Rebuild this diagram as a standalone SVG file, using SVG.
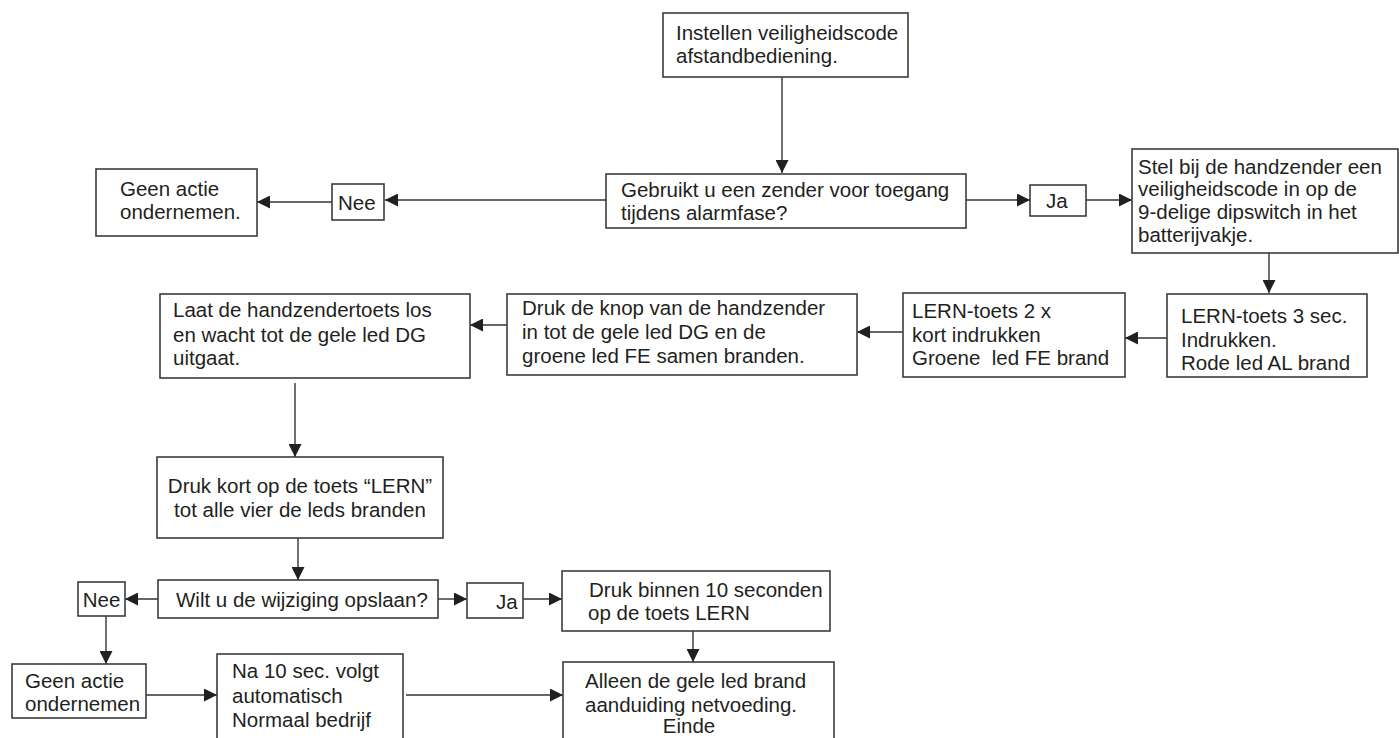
<svg xmlns="http://www.w3.org/2000/svg" width="1399" height="738" viewBox="0 0 1399 738">
<style>
.box{fill:#fff;stroke:#3c3c3c;stroke-width:1.6}
.t{font-family:"Liberation Sans",Arial,sans-serif;font-size:20.5px;fill:#231f20}
.c{text-anchor:middle}
.ln{stroke:#333;stroke-width:1.4;fill:none}
</style>
<defs>
<marker id="ah" markerUnits="userSpaceOnUse" markerWidth="14" markerHeight="13" refX="13" refY="6.5" orient="auto">
<path d="M0,0 L13,6.5 L0,13 Z" fill="#231f20"/>
</marker>
</defs>
<rect width="1399" height="738" fill="#fff"/>
<g id="connectors">
<line class="ln" x1="782" y1="77" x2="782" y2="173" marker-end="url(#ah)"/>
<line class="ln" x1="606" y1="200" x2="385" y2="200" marker-end="url(#ah)"/>
<line class="ln" x1="332" y1="202" x2="257" y2="202" marker-end="url(#ah)"/>
<line class="ln" x1="966" y1="200" x2="1030" y2="200" marker-end="url(#ah)"/>
<line class="ln" x1="1086" y1="200" x2="1132" y2="200" marker-end="url(#ah)"/>
<line class="ln" x1="1269" y1="253" x2="1269" y2="293" marker-end="url(#ah)"/>
<line class="ln" x1="1167" y1="338" x2="1125" y2="338" marker-end="url(#ah)"/>
<line class="ln" x1="903" y1="332" x2="857" y2="332" marker-end="url(#ah)"/>
<line class="ln" x1="507" y1="325" x2="470" y2="325" marker-end="url(#ah)"/>
<line class="ln" x1="295" y1="383" x2="295" y2="457" marker-end="url(#ah)"/>
<line class="ln" x1="298" y1="538" x2="298" y2="580" marker-end="url(#ah)"/>
<line class="ln" x1="158" y1="599" x2="125" y2="599" marker-end="url(#ah)"/>
<line class="ln" x1="106" y1="616" x2="106" y2="664" marker-end="url(#ah)"/>
<line class="ln" x1="437" y1="599" x2="467" y2="599" marker-end="url(#ah)"/>
<line class="ln" x1="523" y1="599" x2="562" y2="599" marker-end="url(#ah)"/>
<line class="ln" x1="693" y1="631" x2="693" y2="662" marker-end="url(#ah)"/>
<line class="ln" x1="146" y1="695" x2="217" y2="695" marker-end="url(#ah)"/>
<line class="ln" x1="406" y1="695" x2="563" y2="695" marker-end="url(#ah)"/>
</g>
<g id="n-instellen">
<rect class="box" x="663" y="13" width="245" height="64"/>
<text class="t" x="676" y="40">Instellen veiligheidscode</text>
<text class="t" x="676" y="63">afstandbediening.</text>
</g>
<g id="n-gebruikt">
<rect class="box" x="606" y="174" width="360" height="54"/>
<text class="t" x="621" y="197">Gebruikt u een zender voor toegang</text>
<text class="t" x="621" y="220">tijdens alarmfase?</text>
</g>
<g id="n-nee1">
<rect class="box" x="332" y="184" width="52" height="36"/>
<text class="t" x="338" y="210">Nee</text>
</g>
<g id="n-geen1">
<rect class="box" x="96" y="169" width="161" height="67"/>
<text class="t" x="120" y="196">Geen actie</text>
<text class="t" x="120" y="219">ondernemen.</text>
</g>
<g id="n-ja1">
<rect class="box" x="1030" y="185" width="56" height="31"/>
<text class="t" x="1046" y="208">Ja</text>
</g>
<g id="n-stel">
<rect class="box" x="1132" y="149" width="266" height="104"/>
<text class="t" x="1138" y="174">Stel bij de handzender een</text>
<text class="t" x="1138" y="196">veiligheidscode in op de</text>
<text class="t" x="1138" y="219">9-delige dipswitch in het</text>
<text class="t" x="1138" y="242">batterijvakje.</text>
</g>
<g id="n-lern3">
<rect class="box" x="1167" y="294" width="200" height="83"/>
<text class="t" x="1181" y="323">LERN-toets 3 sec.</text>
<text class="t" x="1181" y="347">Indrukken.</text>
<text class="t" x="1181" y="370">Rode led AL brand</text>
</g>
<g id="n-lern2">
<rect class="box" x="903" y="293" width="222" height="84"/>
<text class="t" x="912" y="318">LERN-toets 2 x</text>
<text class="t" x="912" y="342">kort indrukken</text>
<text class="t" x="912" y="365" xml:space="preserve">Groene  led FE brand</text>
</g>
<g id="n-drukknop">
<rect class="box" x="507" y="294" width="350" height="81"/>
<text class="t" x="522" y="315">Druk de knop van de handzender</text>
<text class="t" x="522" y="339">in tot de gele led DG en de</text>
<text class="t" x="522" y="363">groene led FE samen branden.</text>
</g>
<g id="n-laat">
<rect class="box" x="160" y="294" width="310" height="84"/>
<text class="t" x="173" y="317">Laat de handzendertoets los</text>
<text class="t" x="173" y="342">en wacht tot de gele led DG</text>
<text class="t" x="173" y="365">uitgaat.</text>
</g>
<g id="n-drukkort">
<rect class="box" x="157" y="457" width="286" height="81"/>
<text class="t c" x="300" y="493">Druk kort op de toets “LERN”</text>
<text class="t c" x="300" y="517">tot alle vier de leds branden</text>
</g>
<g id="n-wilt">
<rect class="box" x="158" y="580" width="280" height="38"/>
<text class="t" x="176" y="607">Wilt u de wijziging opslaan?</text>
</g>
<g id="n-nee2">
<rect class="box" x="78" y="582" width="47" height="34"/>
<text class="t c" x="101.5" y="607">Nee</text>
</g>
<g id="n-ja2">
<rect class="box" x="467" y="583" width="56" height="35"/>
<text class="t" x="496" y="609">Ja</text>
</g>
<g id="n-drukbinnen">
<rect class="box" x="562" y="571" width="268" height="60"/>
<text class="t" x="589" y="597">Druk binnen 10 seconden</text>
<text class="t" x="588" y="620">op de toets LERN</text>
</g>
<g id="n-geen2">
<rect class="box" x="12" y="664" width="134" height="54"/>
<text class="t" x="25" y="688">Geen actie</text>
<text class="t" x="25" y="711">ondernemen</text>
</g>
<g id="n-na">
<rect class="box" x="217" y="654" width="186" height="95"/>
<text class="t" x="232" y="678">Na 10 sec. volgt</text>
<text class="t" x="232" y="703">automatisch</text>
<text class="t" x="232" y="727">Normaal bedrijf</text>
</g>
<g id="n-alleen">
<rect class="box" x="563" y="662" width="271" height="90"/>
<text class="t" x="585" y="688">Alleen de gele led brand</text>
<text class="t" x="585" y="712">aanduiding netvoeding.</text>
<text class="t c" x="689" y="733">Einde</text>
</g>
</svg>
